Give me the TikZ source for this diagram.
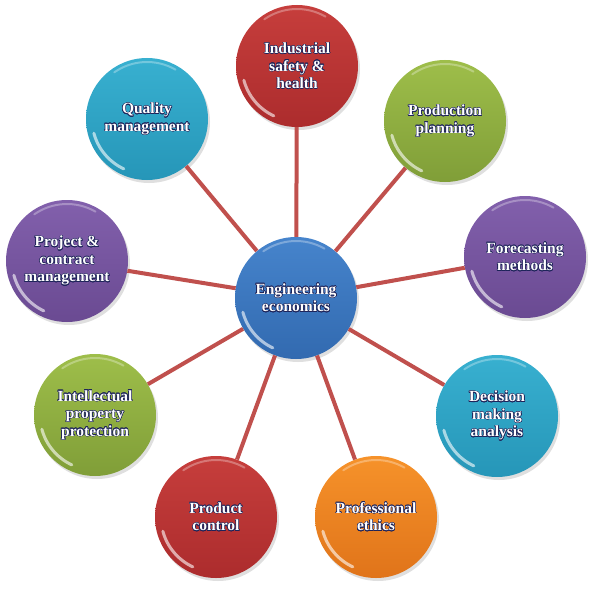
\documentclass[tikz,border=0pt]{standalone}
\usepackage{fontspec}
\setmainfont{Liberation Serif}
\usepackage{contour}
\usetikzlibrary{shadows}

\contourlength{0.45pt}
\definecolor{linkred}{RGB}{192,80,77}
\definecolor{outline}{RGB}{30,36,90}
\newcommand{\ol}[1]{\contour{outline}{#1}}

\begin{document}
\begin{tikzpicture}[x=1pt, y=-1pt]
  \tikzstyle{line} = [draw, linkred, line width = 4pt]
  \tikzstyle{ball} = [circle, minimum size=122pt, inner sep=0pt, align=center,
    text=white, font=\bfseries\fontsize{15.5}{17.5}\selectfont,
    drop shadow={shadow xshift=2pt, shadow yshift=-3pt, opacity=0.25},
    path picture={
      \draw[white, opacity=0.6, line width=3pt, line cap=round]
        (path picture bounding box.center) ++(195:55pt) arc[start angle=195, end angle=245, radius=55pt];
      \draw[white, opacity=0.3, line width=2pt, line cap=round]
        (path picture bounding box.center) ++(60:57pt) arc[start angle=60, end angle=125, radius=57pt];
    }]
  \tikzstyle{redball} = [ball, top color={rgb,255:red,198;green,62;blue,60}, bottom color={rgb,255:red,172;green,44;blue,45}]
  \tikzstyle{greenball} = [ball, top color={rgb,255:red,158;green,190;blue,74}, bottom color={rgb,255:red,128;green,158;blue,56}]
  \tikzstyle{purpleball} = [ball, top color={rgb,255:red,130;green,96;blue,172}, bottom color={rgb,255:red,106;green,74;blue,146}]
  \tikzstyle{tealball} = [ball, top color={rgb,255:red,56;green,176;blue,208}, bottom color={rgb,255:red,38;green,150;blue,184}]
  \tikzstyle{orangeball} = [ball, top color={rgb,255:red,246;green,146;blue,42}, bottom color={rgb,255:red,224;green,116;blue,26}]
  \tikzstyle{blueball} = [ball, top color={rgb,255:red,70;green,132;blue,204}, bottom color={rgb,255:red,50;green,106;blue,176}]

  \useasboundingbox (0,0) rectangle (591,591);

  \node[blueball] (econ) at (296,298) {\ol{Engineering}\\\ol{economics}};

  \node[redball] (safety) at (297,66) {\ol{Industrial}\\\ol{safety \&}\\\ol{health}};
  \node[greenball] (planning) at (445,121) {\ol{Production}\\\ol{planning}};
  \node[purpleball] (forecast) at (525,257) {\ol{Forecasting}\\\ol{methods}};
  \node[tealball] (decision) at (497,416) {\ol{Decision}\\\ol{making}\\\ol{analysis}};
  \node[orangeball] (ethics) at (376,517) {\ol{Professional}\\\ol{ethics}};
  \node[redball] (control) at (216,517) {\ol{Product}\\\ol{control}};
  \node[greenball] (property) at (95,415) {\ol{Intellectual}\\\ol{property}\\\ol{protection}};
  \node[purpleball] (project) at (67,261) {\ol{Project \&}\\\ol{contract}\\\ol{management}};
  \node[tealball] (quality) at (147,119) {\ol{Quality}\\\ol{management}};

  \path [line] (econ) -- (safety);
  \path [line] (econ) -- (planning);
  \path [line] (econ) -- (forecast);
  \path [line] (econ) -- (decision);
  \path [line] (econ) -- (ethics);
  \path [line] (econ) -- (control);
  \path [line] (econ) -- (property);
  \path [line] (econ) -- (project);
  \path [line] (econ) -- (quality);

\end{tikzpicture}
\end{document}
